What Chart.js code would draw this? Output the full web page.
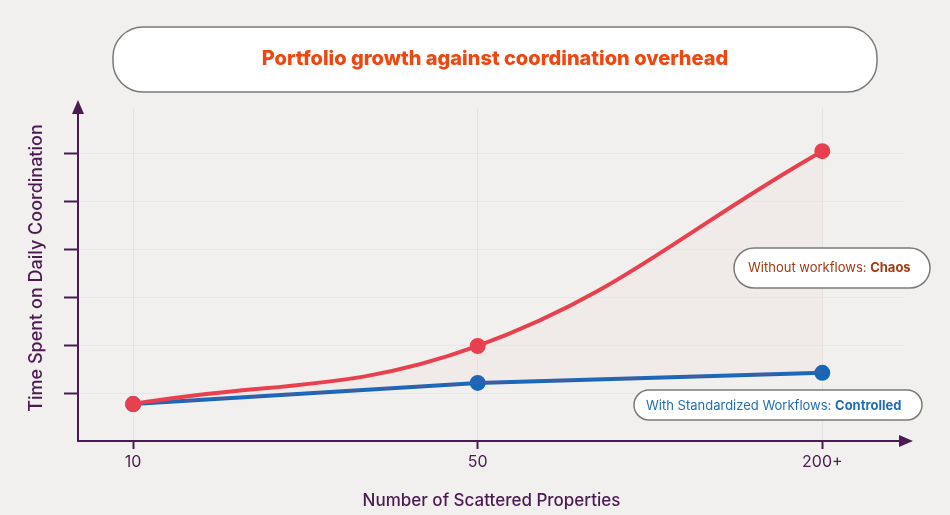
<!DOCTYPE html>
<html>
<head>
<meta charset="utf-8">
<script src="https://cdn.jsdelivr.net/npm/chart.js@4"></script>
<style>
  html, body { margin: 0; padding: 0; background: #f1f0ee; }
  #wrap { width: 950px; height: 515px; }
</style>
</head>
<body>
<div id="wrap"><canvas id="line-chart"></canvas></div>
<script>
const categories = ["10", "50", "200+"];
const withoutWorkflows = [0.77, 1.98, 6.04];
const withWorkflows = [0.77, 1.21, 1.42];

const purple = "#4b1a52";
const FONT = "Inter, 'Open Sans', sans-serif";

function roundBox(ctx, x, y, w, h, r) {
    ctx.beginPath();
    ctx.roundRect(x, y, w, h, r);
    ctx.fillStyle = "#ffffff";
    ctx.fill();
    ctx.strokeStyle = "#7a7a78";
    ctx.lineWidth = 1.5;
    ctx.stroke();
}

const decor = {
    id: "decor",
    afterDraw(chart) {
        const ctx = chart.ctx;
        const a = chart.chartArea;
        ctx.save();
        // arrows
        ctx.fillStyle = purple;
        ctx.beginPath();
        ctx.moveTo(a.left, a.top - 8); ctx.lineTo(a.left - 6, a.top + 6); ctx.lineTo(a.left + 6, a.top + 6);
        ctx.fill();
        ctx.beginPath();
        ctx.moveTo(a.right + 8, a.bottom); ctx.lineTo(a.right - 6, a.bottom - 6); ctx.lineTo(a.right - 6, a.bottom + 6);
        ctx.fill();
        // y title
        ctx.translate(37, 268);
        ctx.rotate(-Math.PI / 2);
        ctx.font = "500 18px " + FONT;
        ctx.textAlign = "center"; ctx.textBaseline = "middle";
        ctx.fillText("Time Spent on Daily Coordination", 0, 0);
        ctx.restore();

        ctx.save();
        // title box
        roundBox(ctx, 113, 27, 764, 65, 30);
        ctx.fillStyle = "#f0460f";
        ctx.font = "800 20px " + FONT;
        ctx.textAlign = "center"; ctx.textBaseline = "middle";
        ctx.fillText("Portfolio growth against coordination overhead", 495, 59);

        // annotation boxes
        ctx.textAlign = "left";
        roundBox(ctx, 734, 248, 196, 40, 20);
        ctx.font = "13px " + FONT;
        ctx.fillStyle = "#a23a12";
        let t1 = "Without workflows: ";
        ctx.fillText(t1, 748, 268);
        let w1 = ctx.measureText(t1).width;
        ctx.font = "bold 13px " + FONT;
        ctx.fillText("Chaos", 748 + w1, 268);

        roundBox(ctx, 634, 390, 288, 30, 15);
        ctx.font = "13px " + FONT;
        ctx.fillStyle = "#1f6fb2";
        let t2 = "With Standardized Workflows: ";
        ctx.fillText(t2, 646, 406);
        let w2 = ctx.measureText(t2).width;
        ctx.font = "bold 13px " + FONT;
        ctx.fillText("Controlled", 646 + w2, 406);
        ctx.restore();
    }
};

const ctx = document.getElementById("line-chart");
new Chart(ctx, {
    type: "line",
    data: {
        datasets: [{
            label: "Without workflows",
            data: withoutWorkflows.map((v, i) => ({ x: i, y: v })),
            borderColor: "#e8404f",
            backgroundColor: "#e8404f",
            borderWidth: 4,
            pointRadius: 6,
            pointHoverRadius: 6,
            tension: 0.4,
            fill: { target: 1, above: "rgba(240,90,100,0.04)" },
            order: 1
        }, {
            label: "With standardized workflows",
            data: withWorkflows.map((v, i) => ({ x: i, y: v })),
            borderColor: "#1866b8",
            backgroundColor: "#1866b8",
            borderWidth: 4,
            pointRadius: 6,
            pointHoverRadius: 6,
            tension: 0,
            order: 2
        }]
    },
    options: {
        responsive: true,
        maintainAspectRatio: false,
        animation: false,
        layout: { padding: { top: 108, right: 45, left: 0, bottom: 0 } },
        plugins: { legend: { display: false }, tooltip: { enabled: false } },
        scales: {
            x: {
                type: "linear",
                min: -0.16,
                max: 2.24,
                afterBuildTicks: s => { s.ticks = categories.map((c, i) => ({ value: i })); },
                afterFit: s => { s.height = 74; },
                ticks: {
                    callback: v => categories[v],
                    color: purple,
                    font: { size: 16, family: FONT },
                    padding: 4
                },
                grid: { color: "rgba(0,0,0,0.05)", tickColor: purple, tickLength: 8, tickWidth: 2 },
                border: { color: purple, width: 2 },
                title: {
                    display: true,
                    text: "Number of Scattered Properties",
                    color: purple,
                    font: { size: 17, family: FONT, weight: "500" },
                    padding: { top: 2 }
                }
            },
            y: {
                min: 0,
                max: 6.94,
                afterBuildTicks: s => { s.ticks = [1, 2, 3, 4, 5, 6].map(v => ({ value: v })); },
                afterFit: s => { s.width = 78; },
                ticks: { callback: () => "", padding: 0 },
                grid: { color: "rgba(0,0,0,0.035)", tickColor: purple, tickLength: 14, tickWidth: 2 },
                border: { color: purple, width: 2 }
            }
        }
    },
    plugins: [decor]
});
</script>
</body>
</html>
